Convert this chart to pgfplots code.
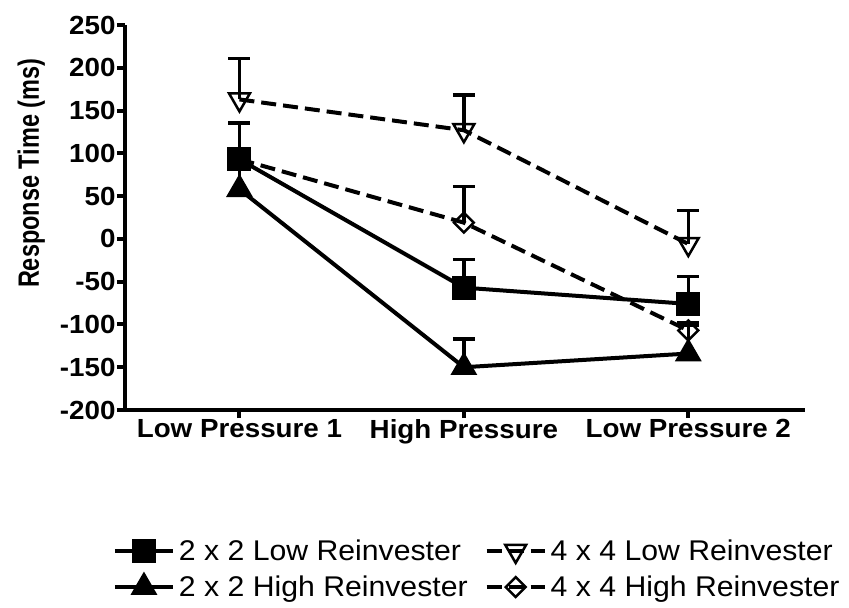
\documentclass[border=0pt]{standalone}
\usepackage{fontspec}
\setmainfont[FakeStretch=1.06]{Liberation Sans}
\newfontfamily\ylabfont[FakeStretch=0.8]{Liberation Sans}
\usepackage{pgfplots}
\pgfplotsset{compat=1.18}
\usepackage{pgfplotstable}

\pgfplotstableread{
x y ey
0 93 43
1 -57 33
2 -76 32
}\lowtwo
\pgfplotstableread{
x y ey
0 58 25
1 -150 33
2 -134 36
}\hightwo
\pgfplotstableread{
x y ey
0 163 48
1 127 41
2 -6 39
}\lowfour
\pgfplotstableread{
x y ey
0 93 42
1 19 42
2 -107 6
}\highfour

\begin{document}
\begin{tikzpicture}
\useasboundingbox (-125bp,-198bp) rectangle (724bp,410bp);
\begin{axis}[
  at={(0,0)}, anchor=south west,
  scale only axis,
  width=680bp, height=385bp,
  xmin=-0.51, xmax=2.52,
  ymin=-200, ymax=250,
  axis x line*=bottom, axis y line*=left,
  axis line style={line width=4bp, -},
  xtick={0,1,2},
  xticklabels={Low Pressure 1, High Pressure, Low Pressure 2},
  ytick={-200,-150,...,250},
  tick align=outside,
  major tick length=8bp,
  tick style={line width=4bp, black},
  /pgf/number format/assume math mode=true,
  tick label style={font=\fontsize{26.3}{30}\selectfont\bfseries},
  xticklabel style={yshift=2bp},
  yticklabel style={xshift=2bp},
  ylabel={Response Time (ms)},
  ylabel style={font=\ylabfont\fontsize{29.5}{33}\selectfont\bfseries, at={(axis description cs:-0.138,0.615)}, anchor=center},
  legend columns=2,
  legend cell align=left,
  legend style={draw=none, fill=none, at={(-0.018,-0.413)}, anchor=west,
    font=\fontsize{28.6}{33}\selectfont,
    /tikz/every even column/.append style={column sep=13bp},
    /tikz/every odd column/.append style={column sep=0bp},
    row sep=10bp, inner sep=0pt,
    nodes={inner xsep=4bp}},
  legend image code/.code={%
    \draw[#1, mark repeat=2, mark phase=2] plot coordinates {(0bp,0bp) (29bp,0bp) (58bp,0bp)};},
  every axis plot/.append style={line width=4bp, black},
  error bars/y dir=plus,
  error bars/y explicit,
  error bars/error mark options={rotate=90, mark size=11bp, line width=3.5bp, solid},
  error bars/error bar style={line width=3.5bp, solid},
]
\addplot[solid, mark=square*, mark size=10bp, mark options={solid, fill=black}]
  table[x=x, y=y, y error plus=ey] {\lowtwo};
\addlegendentry{2 x 2 Low Reinvester}
\addplot[dash pattern=on 15bp off 7bp, mark=triangle, mark size=12bp, mark options={solid, rotate=180, fill=white, line width=2.5bp}]
  table[x=x, y=y, y error plus=ey] {\lowfour};
\addlegendentry{4 x 4 Low Reinvester}
\addplot[solid, mark=triangle*, mark size=11.5bp, mark options={solid, fill=black}]
  table[x=x, y=y, y error plus=ey] {\hightwo};
\addlegendentry{2 x 2 High Reinvester}
\addplot[dash pattern=on 15bp off 7bp, mark=square, mark size=7bp, mark options={solid, rotate=45, fill=white, line width=2.5bp}]
  table[x=x, y=y, y error plus=ey] {\highfour};
\addlegendentry{4 x 4 High Reinvester}
\end{axis}
\end{tikzpicture}
\end{document}
